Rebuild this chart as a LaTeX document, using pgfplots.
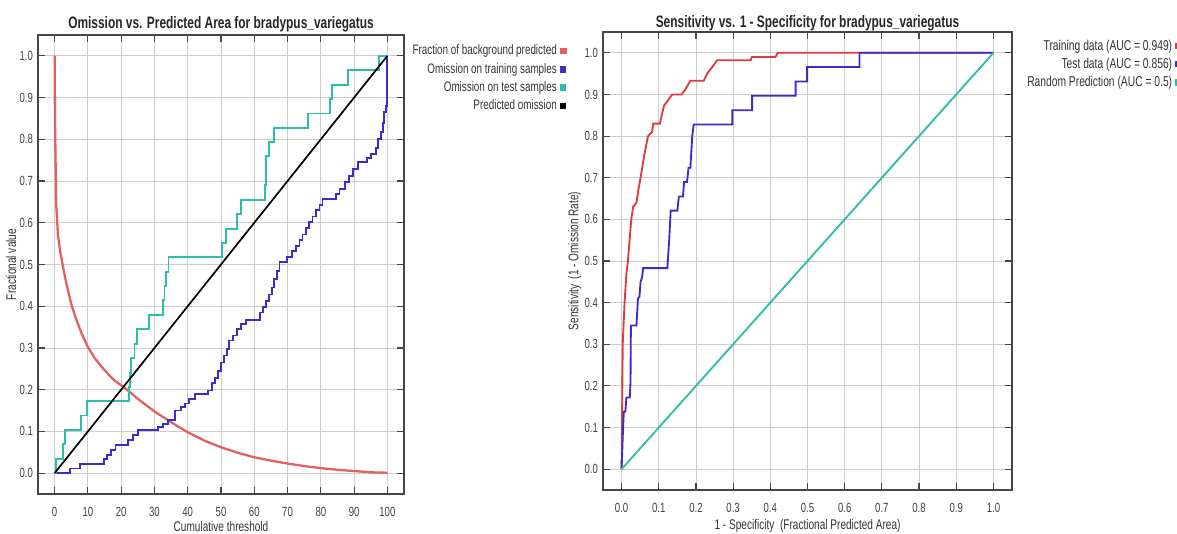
\documentclass[border=0pt]{standalone}
\usepackage{fontspec}
\setmainfont{Liberation Sans}[FakeStretch=0.72]
\usepackage{pgfplots}
\pgfplotsset{compat=1.18}

\definecolor{mred}{RGB}{220,60,65}
\definecolor{mredl}{RGB}{228,95,95}
\definecolor{mblue}{RGB}{60,45,200}
\definecolor{mcyan}{RGB}{45,190,170}
\definecolor{gridgray}{RGB}{205,205,205}
\definecolor{framegray}{RGB}{70,70,70}

\pgfplotsset{
  maxent/.style={
    scale only axis,
    xmin=-5, xmax=105,
    ymin=-0.05, ymax=1.05,
    axis line style={framegray, line width=0.9pt},
    tick style={framegray, line width=0.8pt},
    major tick length=5pt,
    tick align=inside,
    grid=major,
    grid style={gridgray, line width=0.6pt},
    ytick={0,0.1,...,1.0},
    yticklabel style={/pgf/number format/.cd, fixed, fixed zerofill, precision=1},
    xticklabel style={yshift=-6pt},
    /pgf/number format/assume math mode=true,
    tick label style={font=\fontsize{9.3}{10}\selectfont, text=black!75},
    label style={font=\fontsize{9.8}{11}\selectfont, text=black!80},
    title style={font=\fontsize{11.6}{13}\selectfont\bfseries, text=black!85},
    legend style={draw=none, fill=none, font=\fontsize{9.6}{11}\selectfont,
      text=black!80, row sep=0.3pt, inner sep=0pt},
    legend cell align=right,
    legend plot pos=right,
    legend image code/.code={\fill[##1] (0pt,-1.6pt) rectangle (3.2pt,1.6pt);},
  },
}

\begin{document}
\begin{tikzpicture}
\begin{axis}[maxent,
  at={(26.6pt,-24.5pt)}, anchor=north west,
  width=256.2pt, height=321.3pt,
  xtick={0,10,...,100},
  title={Omission vs. Predicted Area for bradypus\_variegatus},
  title style={yshift=-7.5pt},
  xlabel={Cumulative threshold},
  ylabel={Fractional value},
  xlabel style={yshift=3.5pt},
  ylabel style={yshift=-4.5pt},
  legend style={at={(1.445,0.985)}, anchor=north east},
]
\addplot[mredl, line width=1.6pt] coordinates {
  (0,1.0) (0.1,0.85) (0.3,0.74) (0.5,0.64) (1,0.57) (1.7,0.53) (2.5,0.495)
  (3.5,0.455) (5,0.405) (6.5,0.368) (8,0.337) (10,0.302) (12,0.276) (14,0.256)
  (16,0.238) (18,0.222) (21,0.205) (25,0.178) (30,0.148) (35,0.122) (40,0.098)
  (45,0.078) (50,0.062) (55,0.049) (60,0.038) (65,0.030) (70,0.023) (75,0.017)
  (80,0.012) (85,0.008) (90,0.005) (95,0.002) (100,0.001)
};
\addlegendentry{Fraction of background predicted}
\addplot[mblue, line width=1.3pt, const plot] coordinates {
  (0,0) (4.5,0.011) (7.5,0.022) (14,0.022) (14.8,0.033) (15.8,0.044) (17,0.055)
  (18.3,0.068) (22,0.080) (23.5,0.092) (25,0.103) (31,0.110) (32.5,0.118)
  (34,0.127) (36.3,0.150) (38,0.158) (39.2,0.167) (40.5,0.178) (42.3,0.190)
  (46,0.198) (47.3,0.215) (48.3,0.228) (49.2,0.245) (50,0.265) (50.8,0.282)
  (51.7,0.298) (52.5,0.318) (53.7,0.330) (54.8,0.345) (56,0.357) (57.5,0.368)
  (61.8,0.385) (62.6,0.398) (63.4,0.412) (64.3,0.428) (65.2,0.445) (66,0.465)
  (66.8,0.485) (67.6,0.505) (69.8,0.518) (71.3,0.532) (72.6,0.545) (73.6,0.558)
  (74.5,0.572) (75.5,0.588) (76.5,0.602) (77.5,0.615) (78.6,0.630) (79.6,0.643)
  (80.5,0.656) (84.5,0.668) (85.6,0.680) (87.2,0.697) (88.5,0.712) (89.7,0.728)
  (91.3,0.745) (94,0.755) (95,0.765) (96.5,0.780) (97.3,0.800) (98,0.818)
  (98.6,0.840) (99.1,0.865) (99.7,0.880) (100,1.0)
};
\addlegendentry{Omission on training samples}
\addplot[mcyan, line width=1.3pt, const plot] coordinates {
  (0,0) (0.5,0.0345) (2.6,0.069) (3,0.103) (7.8,0.138) (9.8,0.172) (22.3,0.207)
  (22.6,0.241) (23,0.276) (24,0.310) (24.8,0.345) (28.3,0.379) (32.5,0.414)
  (33,0.448) (33.5,0.483) (34.2,0.517) (50.2,0.552) (51.5,0.586) (54.8,0.621)
  (56,0.655) (63.2,0.690) (63.4,0.724) (63.6,0.759) (64.5,0.793) (65.8,0.828)
  (76.2,0.862) (82.7,0.897) (83.3,0.931) (88.2,0.966) (97.5,1.0) (100,1.0)
};
\addlegendentry{Omission on test samples}
\addplot[black, line width=1.2pt] coordinates {(0,0) (100,1)};
\addlegendentry{Predicted omission}
\end{axis}

\begin{axis}[maxent,
  at={(422.1pt,-22.4pt)}, anchor=north west,
  width=286.3pt, height=320.6pt,
  xmin=-0.05, xmax=1.05,
  xtick={0,0.1,...,1.0},
  xticklabel style={/pgf/number format/.cd, fixed, fixed zerofill, precision=1},
  title={Sensitivity vs. 1 - Specificity for bradypus\_variegatus},
  title style={yshift=-9pt},
  xlabel={1 - Specificity\ \ (Fractional Predicted Area)},
  ylabel={Sensitivity\ \ (1 - Omission Rate)},
  xlabel style={yshift=2.5pt},
  ylabel style={yshift=-4.5pt},
  legend style={at={(1.415,0.99)}, anchor=north east, row sep=0pt,
    font=\fontsize{10}{11}\selectfont},
]
\addplot[mred, line width=1.3pt] coordinates {
  (0,0) (0.001,0.1) (0.002,0.2) (0.003,0.3) (0.008,0.4) (0.013,0.47) (0.017,0.5)
  (0.026,0.6) (0.031,0.63) (0.04,0.64) (0.045,0.67) (0.051,0.7) (0.06,0.75)
  (0.071,0.8) (0.082,0.81) (0.085,0.83) (0.103,0.83) (0.108,0.85) (0.114,0.873)
  (0.12,0.88) (0.136,0.9) (0.161,0.9) (0.17,0.91) (0.185,0.933) (0.221,0.933)
  (0.23,0.95) (0.244,0.966) (0.257,0.982) (0.347,0.982) (0.35,0.99) (0.414,0.99)
  (0.42,1.0) (1.0,1.0)
};
\addlegendentry{Training data (AUC = 0.949)}
\addplot[mblue, line width=1.3pt] coordinates {
  (0,0) (0.004,0.1) (0.006,0.138) (0.01,0.138) (0.013,0.172) (0.022,0.172)
  (0.024,0.21) (0.025,0.345) (0.04,0.345) (0.044,0.41) (0.048,0.414) (0.051,0.45)
  (0.055,0.46) (0.058,0.483) (0.123,0.483) (0.128,0.55) (0.132,0.621) (0.15,0.621)
  (0.154,0.655) (0.165,0.655) (0.168,0.69) (0.176,0.69) (0.18,0.724) (0.185,0.724)
  (0.19,0.8) (0.194,0.828) (0.298,0.828) (0.298,0.862) (0.351,0.862) (0.351,0.897)
  (0.468,0.897) (0.468,0.931) (0.499,0.931) (0.499,0.966) (0.64,0.966) (0.64,1.0)
  (1.0,1.0)
};
\addlegendentry{Test data (AUC = 0.856)}
\addplot[mcyan, line width=1.3pt] coordinates {(0,0) (1,1)};
\addlegendentry{Random Prediction (AUC = 0.5)}
\end{axis}

\pgfresetboundingbox
\path[use as bounding box] (0,0) rectangle (823.9pt,-373.8pt);
\end{tikzpicture}
\end{document}
